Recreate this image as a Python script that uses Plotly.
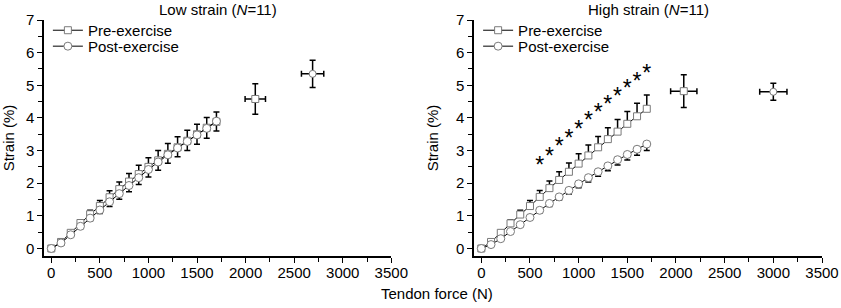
import plotly.graph_objects as go
from plotly.subplots import make_subplots

force = [0, 100, 200, 300, 400, 500, 600, 700, 800, 900, 1000, 1100, 1200, 1300, 1400, 1500, 1600, 1700]

# Low strain
low_pre = [0, 0.2, 0.48, 0.78, 1.05, 1.3, 1.57, 1.82, 2.05, 2.28, 2.5, 2.7, 2.9, 3.1, 3.3, 3.5, 3.7, 3.88]
low_pre_err = [0, 0.03, 0.06, 0.08, 0.12, 0.17, 0.2, 0.22, 0.25, 0.27, 0.28, 0.3, 0.32, 0.32, 0.32, 0.31, 0.31, 0.3]
low_post = [0, 0.17, 0.42, 0.68, 0.93, 1.18, 1.43, 1.68, 1.93, 2.17, 2.42, 2.65, 2.87, 3.08, 3.28, 3.48, 3.68, 3.9]
low_post_err = [0, 0.03, 0.05, 0.07, 0.09, 0.11, 0.14, 0.17, 0.19, 0.21, 0.23, 0.25, 0.26, 0.27, 0.28, 0.29, 0.3, 0.3]
low_max_force = [2100, 2690]
low_max_force_err = [105, 115]
low_max_strain = [4.58, 5.35]
low_max_strain_err = [0.47, 0.42]

# High strain
high_pre = [0, 0.2, 0.48, 0.77, 1.04, 1.3, 1.58, 1.85, 2.1, 2.35, 2.6, 2.85, 3.1, 3.35, 3.58, 3.82, 4.05, 4.28]
high_pre_err = [0, 0.05, 0.07, 0.1, 0.13, 0.17, 0.2, 0.22, 0.25, 0.27, 0.3, 0.32, 0.33, 0.35, 0.37, 0.38, 0.4, 0.42]
high_post = [0, 0.12, 0.3, 0.52, 0.73, 0.95, 1.17, 1.38, 1.58, 1.78, 1.98, 2.17, 2.35, 2.53, 2.72, 2.88, 3.04, 3.2]
high_post_err = [0, 0.05, 0.07, 0.06, 0.06, 0.07, 0.08, 0.09, 0.1, 0.11, 0.12, 0.13, 0.14, 0.15, 0.16, 0.17, 0.18, 0.2]
high_max_force = [2080, 3000]
high_max_force_err = [135, 140]
high_max_strain = [4.82, 4.8]
high_max_strain_err = [0.5, 0.26]

sig_force = [600, 700, 800, 900, 1000, 1100, 1200, 1300, 1400, 1500, 1600, 1700]
sig_y = [2.65, 2.92, 3.24, 3.5, 3.77, 4.03, 4.28, 4.52, 4.78, 5.03, 5.24, 5.49]

titles = ["Low strain (<i>N</i>=11)", "High strain (<i>N</i>=11)"]
x_title = "Tendon force (N)"
y_title = "Strain (%)"

FONT = "Liberation Sans, Arial, sans-serif"
MK_LINE = "#7a7a7a"

fig = make_subplots(rows=1, cols=2, horizontal_spacing=0.1063, subplot_titles=titles)

panels = [
    (low_pre, low_pre_err, low_post, low_post_err, low_max_force, low_max_force_err, low_max_strain, low_max_strain_err, "legend", "legend2"),
    (high_pre, high_pre_err, high_post, high_post_err, high_max_force, high_max_force_err, high_max_strain, high_max_strain_err, "legend3", "legend4"),
]

for i, (pre, pre_e, post, post_e, mf, mfe, ms, mse, lg_pre, lg_post) in enumerate(panels):
    col = i + 1
    fig.add_trace(go.Scatter(
        x=force, y=pre, mode="lines+markers", name="Pre-exercise", legend=lg_pre,
        line=dict(color="black", width=1),
        marker=dict(symbol="square", size=7, color="white", line=dict(color=MK_LINE, width=1)),
        error_y=dict(type="data", array=pre_e, arrayminus=[0] * len(pre_e), symmetric=False,
                     color="black", thickness=1.5, width=3),
    ), row=1, col=col)
    fig.add_trace(go.Scatter(
        x=force, y=post, mode="lines+markers", name="Post-exercise", legend=lg_post,
        line=dict(color="black", width=1),
        marker=dict(symbol="circle", size=8, color="white", line=dict(color=MK_LINE, width=1)),
        error_y=dict(type="data", array=[0] * len(post_e), arrayminus=post_e, symmetric=False,
                     color="black", thickness=1.5, width=3),
    ), row=1, col=col)
    fig.add_trace(go.Scatter(
        x=mf, y=ms, mode="markers", showlegend=False,
        marker=dict(symbol=["square", "circle"], size=7, color="white", line=dict(color=MK_LINE, width=1)),
        error_y=dict(type="data", array=mse, color="black", thickness=1.5, width=3),
        error_x=dict(type="data", array=mfe, color="black", thickness=1.5, width=3),
    ), row=1, col=col)

fig.add_trace(go.Scatter(
    x=sig_force, y=[v - 0.17 for v in sig_y], mode="text", text=["*"] * len(sig_force),
    textfont=dict(family=FONT, size=23, color="black"), showlegend=False, hoverinfo="skip",
), row=1, col=2)

axis_common = dict(
    showline=True, linecolor="black", linewidth=1.5, showgrid=False, zeroline=False,
    ticks="outside", ticklen=5, tickwidth=1.2, tickcolor="black",
    tickfont=dict(family=FONT, size=15, color="black"),
)
for col, so in ((1, 10), (2, 14)):
    fig.update_xaxes(range=[-75, 3500], tickvals=[0, 500, 1000, 1500, 2000, 2500, 3000, 3500],
                     minor=dict(ticks="outside", dtick=250, tick0=0, ticklen=4, tickwidth=1.2, tickcolor="black"),
                     ticklabelstandoff=-3,
                     **axis_common, row=1, col=col)
    fig.update_yaxes(range=[-0.23, 7], tickvals=[0, 1, 2, 3, 4, 5, 6, 7],
                     minor=dict(ticks="outside", dtick=0.5, tick0=0, ticklen=4, tickwidth=1.2, tickcolor="black"),
                     title=dict(text=y_title, font=dict(family=FONT, size=15, color="black"), standoff=so),
                     **axis_common, row=1, col=col)

fig.update_xaxes(domain=[0, 0.4464], row=1, col=1)
fig.update_xaxes(domain=[0.5527, 1], row=1, col=2)

for ann in fig.layout.annotations:
    ann.font = dict(family=FONT, size=15, color="black")

fig.add_annotation(text=x_title, xref="paper", yref="paper", x=0.505, y=-0.157,
                   xanchor="center", yanchor="middle", showarrow=False,
                   font=dict(family=FONT, size=15, color="black"))

legend_common = dict(
    font=dict(family=FONT, size=15, color="black"), bgcolor="rgba(0,0,0,0)",
    itemwidth=30, tracegroupgap=0, yanchor="top", xanchor="left",
)
fig.update_layout(
    legend=dict(x=0.005, y=1.0255, **legend_common),
    legend2=dict(x=0.005, y=0.958, **legend_common),
    legend3=dict(x=0.558, y=1.0255, **legend_common),
    legend4=dict(x=0.558, y=0.958, **legend_common),
)

fig.update_layout(
    width=841, height=308,
    margin=dict(l=44, r=19, t=20, b=52, autoexpand=False),
    paper_bgcolor="white", plot_bgcolor="white",
    font=dict(family=FONT, size=15, color="black"),
)

# remove the browser's default body margin so the figure starts at the page corner
fig.write_html("out.html", config={"displayModeBar": False},
               post_script="document.body.style.margin='0';")
